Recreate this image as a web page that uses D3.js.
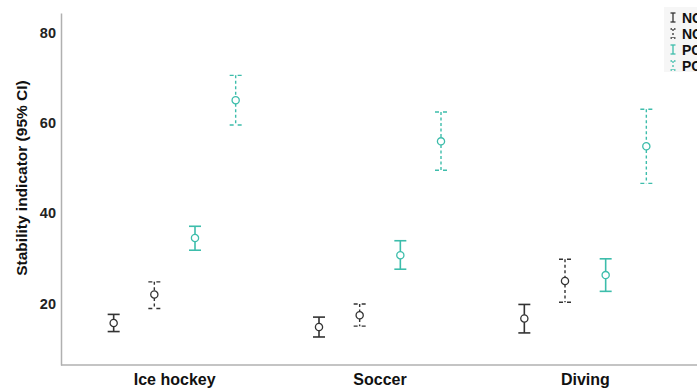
<!DOCTYPE html>
<html>
<head>
<meta charset="utf-8">
<script src="https://cdn.jsdelivr.net/npm/d3@7/dist/d3.min.js"></script>
<style>
  html, body { margin: 0; padding: 0; background: #fff; overflow: hidden; }
  svg { display: block; font-family: "Liberation Sans", Arial, sans-serif; }
</style>
</head>
<body>
<svg id="chart" width="697" height="389"></svg>
<script>
// Sports and the two groups, each measured twice (solid / dashed bars)
const categories = ["Ice hockey", "Soccer", "Diving"];
const seriesNames = ["NO", "NO ", "PO", "PO "];
const seriesGroup = ["NO", "NO", "PO", "PO"];
const seriesDashed = [false, true, false, true];

// Means and 95% CI bounds per series, in category order
const meanValues = [
  [15.7, 14.8, 16.7],
  [22.0, 17.4, 25.0],
  [34.5, 30.7, 26.3],
  [65.0, 55.9, 54.8]
];
const lowerValues = [
  [13.8, 12.6, 13.5],
  [18.9, 15.0, 20.3],
  [31.8, 27.6, 22.7],
  [59.5, 49.5, 46.6]
];
const upperValues = [
  [17.6, 17.0, 19.8],
  [24.8, 19.9, 29.8],
  [37.1, 33.9, 29.9],
  [70.5, 62.4, 63.0]
];
const yTicks = [20, 40, 60, 80];

const colors = { NO: "#333333", PO: "#3dbdab" };

const svg = d3.select("#chart");

const x = d3.scaleBand().domain(categories).range([72, 688]);
const offset = d3.scalePoint().domain(seriesNames).range([-61, 61]);
const y = d3.scaleLinear().domain([6.4, 84.3]).range([365, 13]);

// Axes
const yAxis = d3.axisLeft(y).tickValues(yTicks).tickSize(0).tickPadding(5);
const gy = svg.append("g").attr("transform", "translate(61,0)").call(yAxis);
gy.select(".domain").attr("stroke", "#b0b0b0").attr("stroke-width", 1.5);
gy.selectAll("text").attr("font-size", 14.5).attr("font-weight", "bold")
  .attr("fill", "#222").attr("font-family", "'Liberation Sans', Arial, sans-serif");

const xAxis = d3.axisBottom(x).tickSize(0).tickPadding(9);
const gx = svg.append("g").attr("transform", "translate(0,365)").call(xAxis);
gx.select(".domain").attr("d", "M61,0H697").attr("stroke", "#b0b0b0").attr("stroke-width", 1.5);
gx.selectAll("text").attr("font-size", 16).attr("font-weight", "bold")
  .attr("fill", "#111").attr("font-family", "'Liberation Sans', Arial, sans-serif");

svg.append("text")
  .attr("transform", "translate(27,178) rotate(-90)")
  .attr("text-anchor", "middle")
  .attr("font-size", 15.5).attr("font-weight", "bold").attr("fill", "#111")
  .text("Stability indicator (95% CI)");

// Error bars
const capHalf = 6;
const points = [];
seriesNames.forEach((s, si) => {
  categories.forEach((c, ci) => {
    points.push({
      s, si, c,
      mean: meanValues[si][ci],
      lo: lowerValues[si][ci],
      hi: upperValues[si][ci]
    });
  });
});

const g = svg.append("g");
const bars = g.selectAll("g.bar").data(points).join("g")
  .attr("class", "bar")
  .attr("transform", d => `translate(${x(d.c) + x.bandwidth() / 2 + offset(d.s)},0)`);

bars.each(function(d) {
  const sel = d3.select(this);
  const col = colors[seriesGroup[d.si]];
  const dashed = seriesDashed[d.si];
  const dash = dashed ? "3,2.5" : null;
  const sw = dashed ? 1.4 : 1.6;
  const r = 3.6;
  // upper whisker
  sel.append("line").attr("x1", 0).attr("x2", 0)
    .attr("y1", y(d.hi)).attr("y2", y(d.mean) - r)
    .attr("stroke", col).attr("stroke-width", sw).attr("stroke-dasharray", dash);
  // lower whisker
  sel.append("line").attr("x1", 0).attr("x2", 0)
    .attr("y1", y(d.mean) + r).attr("y2", y(d.lo))
    .attr("stroke", col).attr("stroke-width", sw).attr("stroke-dasharray", dash);
  // caps
  [d.hi, d.lo].forEach(v => {
    sel.append("line").attr("x1", -capHalf).attr("x2", capHalf)
      .attr("y1", y(v)).attr("y2", y(v))
      .attr("stroke", col).attr("stroke-width", sw)
      .attr("stroke-dasharray", dashed ? "4,4" : null);
  });
  sel.append("circle").attr("cx", 0).attr("cy", y(d.mean)).attr("r", r)
    .attr("fill", "none").attr("stroke", col).attr("stroke-width", 1.3);
});

// Legend
const legend = svg.append("g");
legend.append("rect").attr("x", 664).attr("y", 7).attr("width", 40).attr("height", 65)
  .attr("fill", "#f6f6f6");
seriesNames.forEach((s, i) => {
  const ly = 17.5 + i * 16;
  const col = colors[seriesGroup[i]];
  const dashed = seriesDashed[i];
  const li = legend.append("g").attr("transform", `translate(673,${ly})`);
  li.append("line").attr("x1", 0).attr("x2", 0).attr("y1", -4.5).attr("y2", 4.5)
    .attr("stroke", col).attr("stroke-width", 1.3).attr("stroke-dasharray", dashed ? "2,2" : null);
  [-4.5, 4.5].forEach(v => {
    li.append("line").attr("x1", -2.5).attr("x2", 2.5).attr("y1", v).attr("y2", v)
      .attr("stroke", col).attr("stroke-width", 1.3).attr("stroke-dasharray", dashed ? "1.5,2" : null);
  });
  legend.append("text").attr("x", 682).attr("y", ly + 5)
    .attr("font-size", 14).attr("font-weight", "bold").attr("fill", "#111")
    .text(s.trim());
});
</script>
</body>
</html>
